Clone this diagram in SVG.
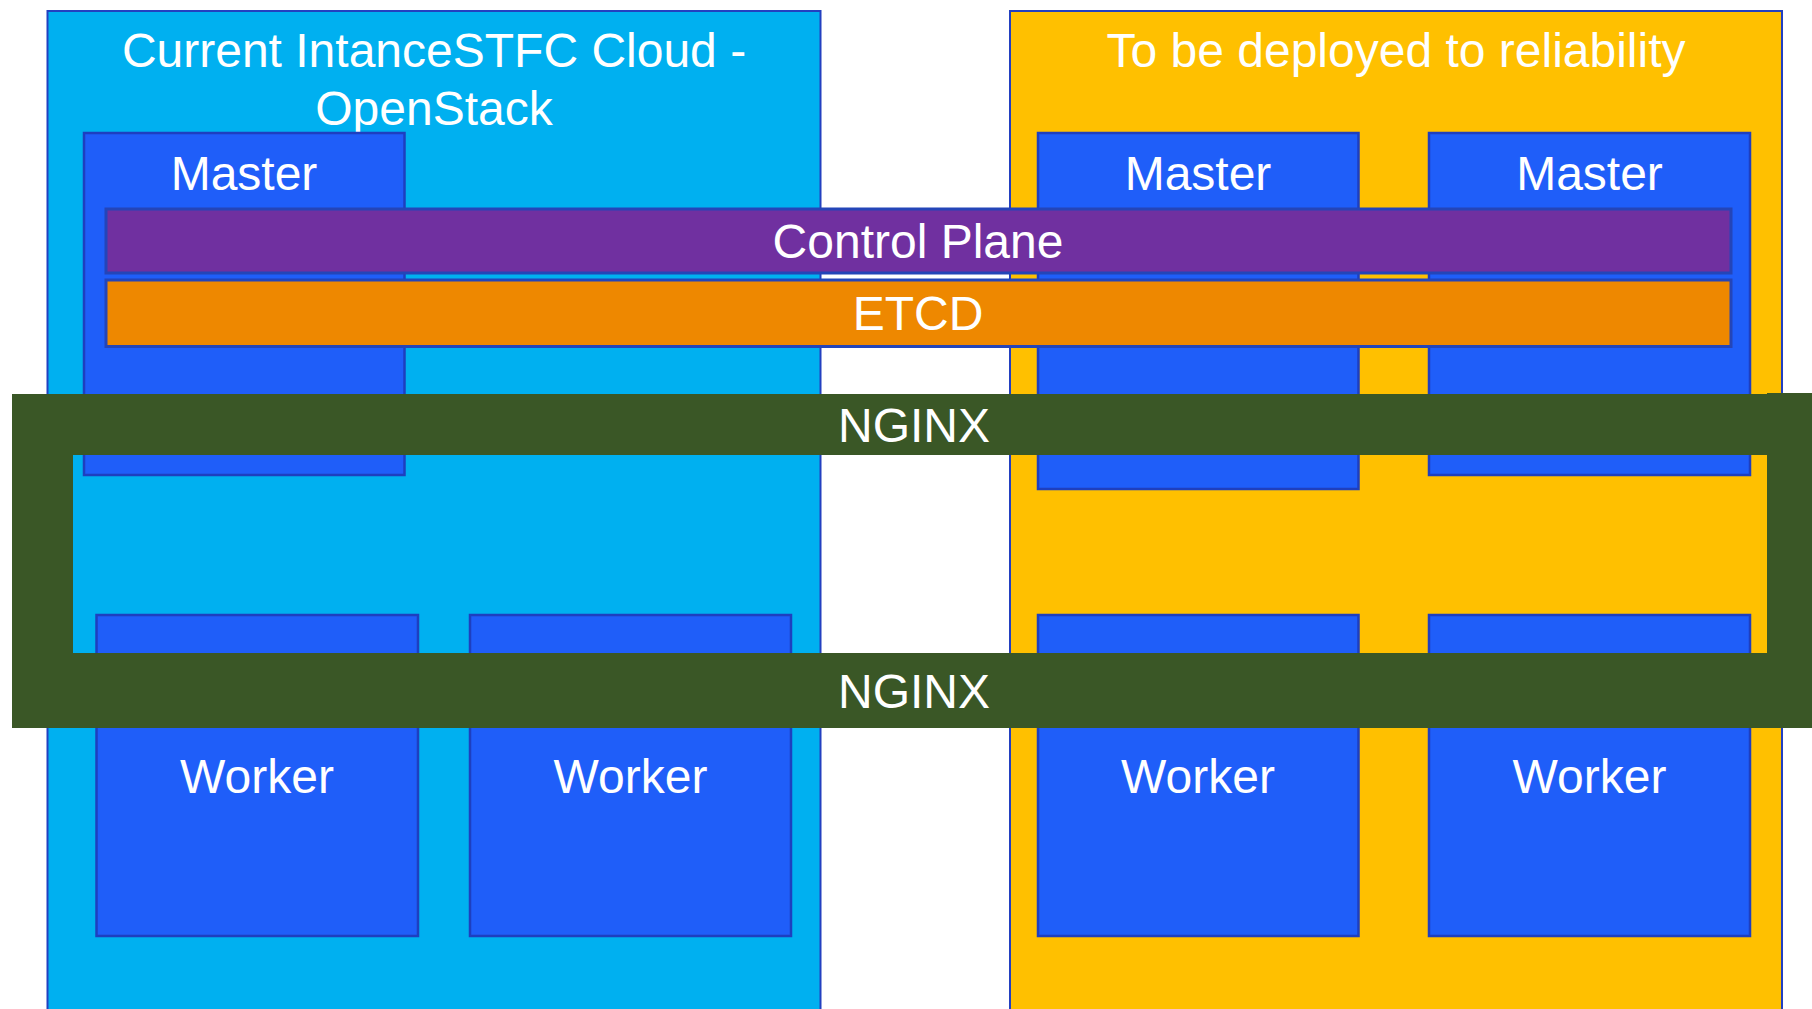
<svg xmlns="http://www.w3.org/2000/svg" width="1812" height="1009" viewBox="0 0 1812 1009">
<style>
text { font-family: "Liberation Sans", Arial, sans-serif; font-size: 48px; fill: #FFFFFF; text-anchor: middle; }
.cloudA { fill: #00B0F0; stroke: #2340C0; stroke-width: 2; }
.cloudB { fill: #FFC000; stroke: #2340C0; stroke-width: 2; }
.node { fill: #1F5EF9; stroke: #1E3FBF; stroke-width: 2.5; }
.cp { fill: #7030A0; stroke: #2445B8; stroke-width: 3; }
.etcd { fill: #EE8800; stroke: #2445B8; stroke-width: 3; }
.nginx { fill: #3A5726; fill-rule: evenodd; }
</style>
<rect width="1812" height="1009" fill="#FFFFFF"/>
<g id="cloud-current">
  <rect class="cloudA" x="47.5" y="11" width="773" height="1020"/>
  <text x="434" y="67">Current IntanceSTFC Cloud -</text>
  <text x="434" y="125">OpenStack</text>
</g>
<g id="cloud-reliability">
  <rect class="cloudB" x="1010" y="11" width="772" height="1020"/>
  <text x="1396" y="67">To be deployed to reliability</text>
</g>
<g id="master-1">
  <rect class="node" x="84" y="133" width="320.5" height="342"/>
  <text x="244" y="190">Master</text>
</g>
<g id="master-2">
  <rect class="node" x="1038" y="133" width="320.5" height="356"/>
  <text x="1198" y="190">Master</text>
</g>
<g id="master-3">
  <rect class="node" x="1429" y="133" width="321" height="342"/>
  <text x="1589.5" y="190">Master</text>
</g>
<g id="worker-1">
  <rect class="node" x="96.5" y="615" width="321.5" height="321"/>
  <text x="257" y="793">Worker</text>
</g>
<g id="worker-2">
  <rect class="node" x="470" y="615" width="321" height="321"/>
  <text x="630.5" y="793">Worker</text>
</g>
<g id="worker-3">
  <rect class="node" x="1038" y="615" width="320.5" height="321"/>
  <text x="1198" y="793">Worker</text>
</g>
<g id="worker-4">
  <rect class="node" x="1429" y="615" width="321" height="321"/>
  <text x="1589.5" y="793">Worker</text>
</g>
<g id="control-plane">
  <rect class="cp" x="106" y="209" width="1625" height="64"/>
  <text x="918" y="258">Control Plane</text>
</g>
<g id="etcd">
  <rect class="etcd" x="106" y="280" width="1625" height="66.5"/>
  <text x="918" y="330">ETCD</text>
</g>
<g id="nginx">
  <path class="nginx" d="M12,394 H1767 V393 H1812 V728 H12 Z M73,455 V653 H1767 V455 Z"/>
  <text x="914" y="442">NGINX</text>
  <text x="914" y="708">NGINX</text>
</g>
<g id="connectors"></g>
</svg>
